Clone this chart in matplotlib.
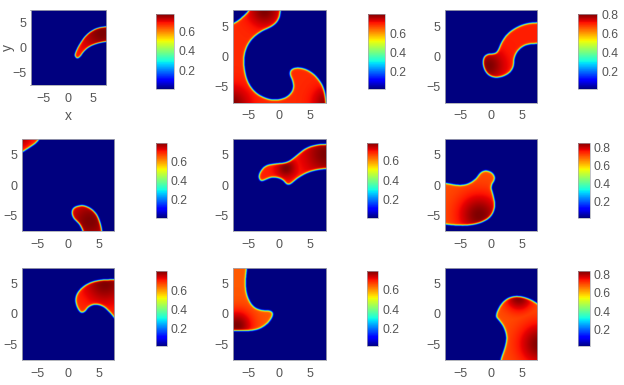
import numpy as np
import matplotlib
matplotlib.use("Agg")
import matplotlib.pyplot as plt
from matplotlib.path import Path

plt.rcParams['font.family'] = ['Liberation Sans', 'DejaVu Sans']

# Outlines of the excited region in each panel (x, y data units)
p1_x = [1.1, 1.37, 2.03, 3.37, 5.37, 7.5, 9.5, 9.5, 7.5, 5.7, 4.03, 2.9, 2.17, 1.57]
p1_y = [-1.63, -0.77, 0.57, 2.57, 3.9, 4.23, 4.3, 1.25, 1.23, 0.9, 0.23, -0.77, -1.9, -2.23]
p2_x = [-4.92, 0.11, 0.11, -0.16, -1.26, -3.17, -4.81, -5.74, -5.9, -5.36, -3.99, -2.08, -0.44, 1.2, 2.19, 2.13, 1.48, 2.02, 3.39, 5.03, 6.39, 7.21, 7.49, 7.49, -9.18, -9.18, -7.65, -6.72, -5.74, -4.92]
p2_y = [8.74, 8.74, 7.65, 6.01, 4.92, 4.1, 2.73, 0.82, -1.37, -4.1, -6.01, -6.99, -7.16, -6.67, -5.46, -4.1, -2.73, -1.91, -1.8, -2.46, -3.83, -5.46, -7.54, -8.74, -8.74, 4.64, 5.36, 5.9, 6.78, 7.65]
p3_x = [8.96, 7.6, 5.96, 4.32, 2.68, 1.69, 1.04, 0.49, -0.6, -1.31, -1.42, -0.87, 0.22, 1.58, 2.95, 3.66, 3.66, 4.32, 5.68, 7.6, 8.96]
p3_y = [5.57, 5.57, 5.46, 4.92, 3.83, 2.46, 0.82, 0.44, 0.44, -0.11, -1.37, -2.73, -3.44, -3.39, -2.73, -1.64, -0.27, 1.09, 2.02, 2.13, 2.13]
p4a_x = [-8.96, -4.7, -4.7, -5.41, -6.5, -7.6, -8.96]
p4a_y = [9.02, 9.02, 7.54, 6.72, 6.01, 5.3, 4.64]
p4b_x = [0.49, 0.77, 1.69, 2.79, 4.15, 4.97, 5.52, 5.52, 2.51, 2.4, 1.69, 0.87]
p4b_y = [-4.64, -3.83, -3.44, -3.44, -4.26, -5.46, -7.54, -9.02, -9.02, -7.54, -6.28, -5.63]
p5_x = [-3.5, -3.17, -2.35, -0.98, 1.2, 2.57, 4.21, 6.12, 7.65, 9.13, 9.13, 7.65, 6.12, 4.48, 2.84, 1.64, 1.09, 0.55, -0.16, -1.26, -2.35, -3.06]
p5_y = [1.2, 2.19, 3.11, 3.39, 3.55, 4.64, 6.01, 6.56, 6.61, 6.61, 2.62, 2.62, 2.46, 2.02, 1.09, 0.0, 0.0, 0.71, 1.09, 1.26, 0.82, 0.49]
p6_x = [-8.8, -7.6, -5.52, -3.88, -2.51, -1.8, -0.87, 0.22, 0.66, -0.16, 0.27, 0.66, -0.05, -1.69, -3.88, -6.07, -7.6, -8.8]
p6_y = [0.27, 0.27, -0.16, 0.0, 0.93, 2.02, 2.35, 1.91, 0.93, -0.27, -1.64, -3.55, -5.3, -6.28, -6.72, -6.67, -6.5, -6.5]
p7_x = [9.07, 7.6, 5.25, 3.33, 1.8, 1.09, 1.31, 1.97, 2.62, 3.33, 4.43, 5.79, 6.89, 7.6, 9.07]
p7_y = [5.57, 5.57, 5.52, 5.03, 3.93, 2.57, 1.2, 0.11, 0.22, 1.2, 1.58, 1.2, 0.11, -0.82, -2.46]
p8_x = [-5.46, -5.36, -5.63, -5.46, -4.54, -3.17, -1.53, -1.04, -1.64, -2.9, -4.54, -7.65, -9.18, -9.18]
p8_y = [9.13, 7.6, 5.3, 3.11, 1.2, 0.49, 0.49, -0.05, -1.26, -2.35, -2.84, -2.84, -2.84, 9.13]
p9_x = [8.96, 7.6, 6.23, 4.32, 2.68, 1.48, 0.6, 1.31, 2.13, 2.57, 2.13, 1.48, 1.48, 8.96]
p9_y = [0.66, 1.58, 2.4, 2.9, 2.57, 1.48, -0.44, -1.15, -2.35, -3.99, -5.9, -7.54, -9.18, -9.18]

outlines = [[(p1_x, p1_y)], [(p2_x, p2_y)], [(p3_x, p3_y)],
            [(p4a_x, p4a_y), (p4b_x, p4b_y)], [(p5_x, p5_y)], [(p6_x, p6_y)],
            [(p7_x, p7_y)], [(p8_x, p8_y)], [(p9_x, p9_y)]]

# Where the field peaks inside each region: x, y, reach
peak_x = [[6.5], [-8.0, 8.0, -2.5], [-0.5], [3.5, -8.0], [7.5, 1.0], [-2.0], [6.0], [-7.0], [8.0, 4.5]]
peak_y = [[3.0], [-8.0, -7.5, 7.5], [-1.5], [-6.0, 8.0], [5.0, 2.7], [-5.0], [5.0], [-2.0], [-5.0, 2.7]]
peak_r = [[4.0], [3.0, 2.5, 2.5], [2.5], [3.5, 1.5], [3.5, 1.6], [3.5], [3.5], [2.5], [3.5, 2.2]]
# Level of the field away from its peaks, as a share of the scale's top
base_level = [0.88, 0.87, 0.88, 0.88, 0.88, 0.83, 0.86, 0.82, 0.83]

# Colour scale limits and colourbar ticks per panel
clim_lo = [0.01, 0.024, 0.012, 0.01, 0.01, 0.013, 0.015, 0.017, 0.018]
clim_hi = [0.77, 0.797, 0.807, 0.80, 0.786, 0.856, 0.80, 0.793, 0.836]
cbar_ticks = [[0.2, 0.4, 0.6], [0.2, 0.4, 0.6], [0.2, 0.4, 0.6, 0.8],
              [0.2, 0.4, 0.6], [0.2, 0.4, 0.6], [0.2, 0.4, 0.6, 0.8],
              [0.2, 0.4, 0.6], [0.2, 0.4, 0.6], [0.2, 0.4, 0.6, 0.8]]
axis_ticks = [-5, 0, 5]

# Layout in pixels: left, right, top, bottom
ax_box = [(30.5, 105.7, 10.3, 85.3), (232.7, 326, 10.3, 102.7), (444.7, 537.3, 10.3, 102.7),
          (21.7, 114.3, 138.7, 231.3), (232.7, 326, 138.7, 231.3), (444.7, 537.3, 138.7, 231.3),
          (21.7, 114.3, 267.7, 360.3), (232.7, 326, 267.7, 360.3), (444.7, 537.3, 267.7, 360.3)]
cb_box = [(155.7, 174, 14.3, 89), (367.7, 385.3, 14.3, 89), (578.3, 597, 14.3, 89),
          (155.7, 166.7, 142.7, 217.7), (367.3, 378.3, 142.7, 217.7), (578.3, 589.7, 142.7, 217.7),
          (155.7, 166.7, 271.3, 346.3), (367.3, 378.3, 271.3, 346.3), (578.3, 589.7, 271.3, 346.3)]
half_span = [7.5] + [7.6] * 8

W, H = 624, 385
TEXT = '#555555'
FRAME = '#a6a8b0'


def rect(box):
    l, r, t, b = box
    return [l / W, 1 - b / H, (r - l) / W, (b - t) / H]


def chaikin(xs, ys, n=2):
    # Vertices outside the frame are held so that rounding cannot pull a corner into view
    held = []
    for x, y in zip(xs, ys):
        held += [(x, y)] * (4 if max(abs(x), abs(y)) > 8.2 else 1)
    pts = np.array(held, dtype=float)
    for _ in range(n):
        nxt = np.roll(pts, -1, axis=0)
        pts = np.column_stack([0.75 * pts + 0.25 * nxt, 0.25 * pts + 0.75 * nxt]).reshape(-1, 2)
    return pts


def blur(a, sigma, step):
    r = int(4 * sigma / step) + 1
    k = np.exp(-0.5 * (np.arange(-r, r + 1) * step / sigma) ** 2)
    k /= k.sum()
    a = np.pad(a, r, mode='edge')
    a = np.apply_along_axis(lambda m: np.convolve(m, k, mode='same'), 0, a)
    a = np.apply_along_axis(lambda m: np.convolve(m, k, mode='same'), 1, a)
    return a[r:-r, r:-r]


grid = np.linspace(-10, 10, 401)
step = grid[1] - grid[0]
X, Y = np.meshgrid(grid, grid)
pts_xy = np.column_stack([X.ravel(), Y.ravel()])

fig = plt.figure(figsize=(W / 100, H / 100), dpi=100, facecolor='white')

for i in range(9):
    inside = np.zeros(X.shape)
    for xs, ys in outlines[i]:
        inside += Path(chaikin(xs, ys)).contains_points(pts_xy).reshape(X.shape)
    inside = np.clip(inside, 0, 1)
    edge = blur(inside, 0.12, step)
    rim = blur(inside, 0.28, step)
    lo, hi = clim_lo[i], clim_hi[i]
    glow = np.zeros(X.shape)
    for px, py, pr in zip(peak_x[i], peak_y[i], peak_r[i]):
        glow = np.maximum(glow, np.exp(-((X - px) ** 2 + (Y - py) ** 2) / pr ** 2))
    level = base_level[i]
    body = hi * (level + (1 - level) * glow) * (0.88 + 0.12 * rim)
    field = lo + (body - lo) * edge

    ax = fig.add_axes(rect(ax_box[i]))
    im = ax.imshow(field, origin='lower', extent=[grid[0], grid[-1], grid[0], grid[-1]],
                   cmap='jet', vmin=lo, vmax=hi, interpolation='bilinear', aspect='auto')
    s = half_span[i]
    ax.set_xlim(-s, s)
    ax.set_ylim(-s, s)
    ax.set_xticks(axis_ticks)
    ax.set_yticks(axis_ticks)
    ax.tick_params(axis='x', length=0, labelsize=9, labelcolor=TEXT, pad=5.5)
    ax.tick_params(axis='y', length=0, labelsize=9, labelcolor=TEXT, pad=3)
    for sp in ax.spines.values():
        sp.set_color(FRAME)
        sp.set_linewidth(0.6)

    cax = fig.add_axes(rect(cb_box[i]))
    cb = fig.colorbar(im, cax=cax)
    cb.set_ticks(cbar_ticks[i])
    cb.ax.set_yticklabels([f'{t:.1f}' for t in cbar_ticks[i]])
    cb.ax.tick_params(length=0, labelsize=8.8, labelcolor=TEXT, pad=3)
    cb.outline.set_edgecolor(FRAME)
    cb.outline.set_linewidth(0.5)

    if i == 0:
        ax.set_xlabel('x', fontsize=10, color=TEXT, labelpad=3)
        ax.set_ylabel('y', fontsize=10, color=TEXT, labelpad=-2)

fig.savefig('out.png', dpi=100)
